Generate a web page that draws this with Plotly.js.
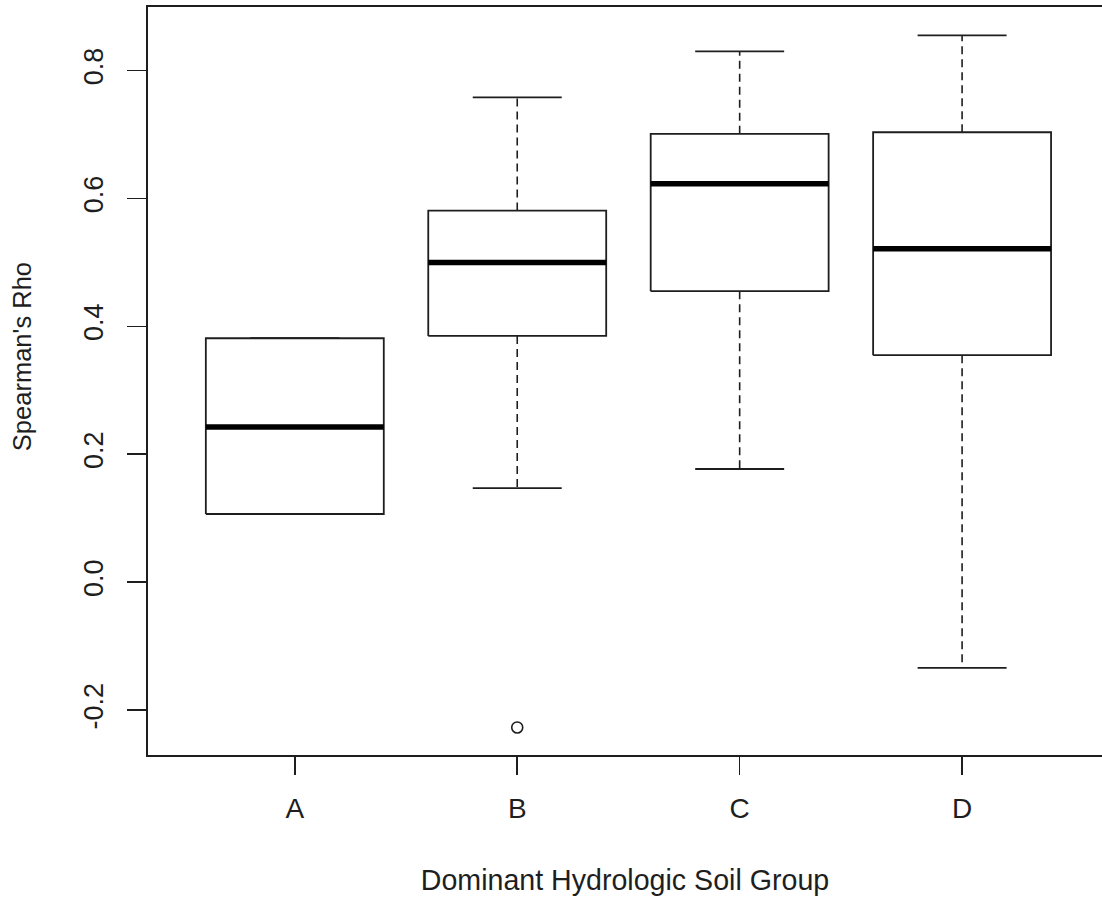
<!DOCTYPE html>
<html>
<head>
<meta charset="utf-8">
<script src="https://cdn.plot.ly/plotly-3.0.1.min.js"></script>
<style>
html, body { margin: 0; padding: 0; background: #fff; overflow: hidden; }
#chart { width: 1102px; height: 897px; }
</style>
</head>
<body>
<div id="chart"></div>
<script>
// Data
const categories = ["A", "B", "C", "D"];
const lowerWhisker = [0.1067, 0.1472, 0.177, -0.134];
const q1 = [0.1067, 0.385, 0.455, 0.355];
const median = [0.2425, 0.500, 0.623, 0.5214];
const q3 = [0.3814, 0.581, 0.701, 0.7035];
const upperWhisker = [0.3814, 0.758, 0.830, 0.855];
const outlierGroup = ["B"];
const outlierValue = [-0.227];
const yTickValues = [-0.2, 0.0, 0.2, 0.4, 0.6, 0.8];
const yTickLabels = ["-0.2", "0.0", "0.2", "0.4", "0.6", "0.8"];
const xTitle = "Dominant Hydrologic Soil Group";
const yTitle = "Spearman's Rho";

const ink = "#1e1e1e";
const halfBox = 0.4;
const halfCap = 0.2;
const traces = [];

categories.forEach((cat, i) => {
  const c = i + 1;
  // whiskers (dashed)
  traces.push({
    type: "scatter", mode: "lines", hoverinfo: "skip", showlegend: false,
    x: [c, c, null, c, c],
    y: [q3[i], upperWhisker[i], null, q1[i], lowerWhisker[i]],
    line: { color: ink, width: 1.6, dash: "8px,5px" }
  });
  // caps
  traces.push({
    type: "scatter", mode: "lines", hoverinfo: "skip", showlegend: false,
    x: [c - halfCap, c + halfCap, null, c - halfCap, c + halfCap],
    y: [upperWhisker[i], upperWhisker[i], null, lowerWhisker[i], lowerWhisker[i]],
    line: { color: ink, width: 1.8 }
  });
  // box
  traces.push({
    type: "scatter", mode: "lines", hoverinfo: "skip", showlegend: false,
    x: [c - halfBox, c + halfBox, c + halfBox, c - halfBox, c - halfBox],
    y: [q1[i], q1[i], q3[i], q3[i], q1[i]],
    fill: "toself", fillcolor: "#ffffff",
    line: { color: ink, width: 1.8 }
  });
  // median
  traces.push({
    type: "scatter", mode: "lines", hoverinfo: "skip", showlegend: false,
    x: [c - halfBox, c + halfBox],
    y: [median[i], median[i]],
    line: { color: "#000000", width: 5.5 }
  });
});

// outliers
traces.push({
  type: "scatter", mode: "markers", hoverinfo: "skip", showlegend: false,
  x: outlierGroup.map(g => categories.indexOf(g) + 1),
  y: outlierValue,
  marker: { symbol: "circle-open", size: 11, color: ink, line: { width: 1.6, color: ink } }
});

const layout = {
  width: 1102, height: 897,
  margin: { l: 148, r: 0, t: 7, b: 142 },
  paper_bgcolor: "#ffffff", plot_bgcolor: "#ffffff",
  font: { family: "Liberation Sans, Arial, sans-serif", color: ink },
  showlegend: false,
  xaxis: {
    range: [0.34, 4.629],
    tickmode: "array",
    tickvals: categories.map((_, i) => i + 1),
    ticktext: categories,
    ticks: "outside", ticklen: 18, tickwidth: 1.6, tickcolor: ink,
    tickfont: { size: 28, color: ink },
    ticklabelstandoff: 10,
    showline: true, mirror: true, linecolor: ink, linewidth: 1.8,
    showgrid: false, zeroline: false,
    title: { text: xTitle, font: { size: 28.6, color: ink }, standoff: 46 }
  },
  yaxis: {
    range: [-0.2701, 0.8993],
    tickmode: "array",
    tickvals: yTickValues,
    ticktext: yTickLabels,
    tickangle: -90,
    ticks: "outside", ticklen: 19, tickwidth: 1.6, tickcolor: ink,
    tickfont: { size: 27, color: ink },
    ticklabelstandoff: 13,
    showline: true, mirror: false, linecolor: ink, linewidth: 1.8,
    showgrid: false, zeroline: false
  },
  annotations: [{
    text: yTitle, textangle: -90, showarrow: false,
    xref: "paper", yref: "paper",
    x: -0.132, y: 0.532, xanchor: "center", yanchor: "middle",
    font: { size: 25.5, color: ink }
  }]
};

Plotly.newPlot("chart", traces, layout, { staticPlot: true, displayModeBar: false });
</script>
</body>
</html>
